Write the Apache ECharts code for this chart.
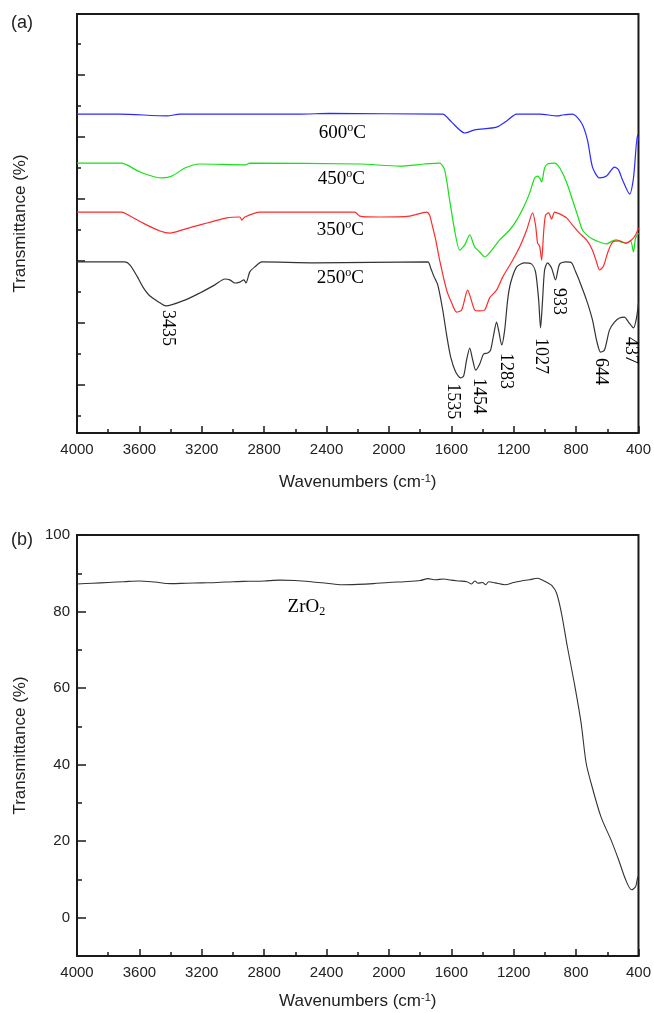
<!DOCTYPE html>
<html>
<head>
<meta charset="utf-8">
<script src="https://cdn.jsdelivr.net/npm/echarts@6/dist/echarts.min.js"></script>
<style>
html,body{margin:0;padding:0;background:#fff;}
#chart{width:654px;height:1013px;}
</style>
</head>
<body>
<div id="chart"></div>
<script>
// ---------- Panel (a): FTIR spectra (arbitrary transmittance units, offset) ----------
const wn600 = [4000,3725,3423,3340,2571,2379,1675,1655,1598,1514,1450,1310,1245,1181,1034,919,887,823,765,727,695,650,605,554,528,502,457,432,406,400];
const tr600 = [9.74,9.74,9.68,9.74,9.74,9.76,9.74,9.74,9.48,9.13,9.23,9.32,9.52,9.74,9.74,9.68,9.71,9.74,9.45,8.90,8.03,7.68,7.74,8.03,7.94,7.61,7.16,7.68,9.06,8.90];

const wn450 = [4000,3712,3680,3596,3500,3449,3391,3308,3212,2920,2892,2187,1931,1771,1675,1643,1611,1579,1546,1514,1482,1450,1418,1386,1341,1290,1226,1181,1130,1098,1066,1047,1034,1021,1002,983,938,919,887,855,823,791,759,714,669,605,566,541,509,477,451,432,419,400];
const tr450 = [8.16,8.16,8.10,7.87,7.71,7.68,7.74,8.00,8.13,8.10,8.16,8.13,8.06,8.13,8.16,7.94,6.97,6.00,5.35,5.52,5.84,5.45,5.29,5.13,5.35,5.68,6.00,6.32,6.81,7.19,7.68,7.74,7.68,7.55,8.00,8.13,8.16,8.10,7.84,7.45,6.97,6.48,6.00,5.77,5.65,5.55,5.65,5.68,5.61,5.58,5.65,5.29,5.74,5.90];

const wn350 = [4000,3712,3660,3564,3468,3404,3308,3039,2956,2943,2924,2828,2219,2187,2059,1867,1758,1739,1726,1700,1675,1630,1598,1566,1534,1495,1476,1450,1418,1386,1354,1310,1271,1213,1162,1117,1079,1060,1047,1034,1021,1008,996,976,957,938,906,861,823,778,733,695,669,650,624,598,566,522,483,445,419,400];
const tr350 = [6.58,6.58,6.45,6.19,5.97,5.90,6.03,6.39,6.42,6.32,6.42,6.58,6.58,6.45,6.42,6.45,6.58,6.48,6.23,5.68,5.03,4.06,3.65,3.35,3.42,4.06,3.81,3.42,3.39,3.42,3.81,4.06,4.48,4.97,5.45,6.00,6.55,6.16,5.58,5.48,5.03,5.94,6.48,6.55,6.35,6.58,6.52,6.39,6.16,5.90,5.68,5.35,4.97,4.71,4.84,5.26,5.61,5.65,5.58,5.68,5.84,6.06];

const wn250 = [4000,3693,3660,3616,3577,3532,3468,3430,3308,3212,3116,3052,3020,2988,2956,2930,2917,2892,2860,2815,2475,1751,1732,1713,1687,1655,1630,1604,1572,1540,1521,1502,1482,1463,1444,1418,1393,1367,1348,1329,1310,1297,1277,1258,1239,1220,1181,1130,1085,1060,1040,1028,1015,1002,983,957,932,906,867,829,803,778,733,695,669,643,618,586,554,522,490,464,432,413,400];
const tr250 = [4.97,4.97,4.87,4.52,4.16,3.87,3.65,3.55,3.74,3.97,4.23,4.42,4.39,4.29,4.32,4.39,4.29,4.65,4.81,4.97,4.94,4.97,4.77,4.52,4.23,3.42,2.61,1.90,1.42,1.23,1.29,1.81,2.19,1.81,1.48,1.68,2.00,2.03,2.13,2.61,3.03,2.77,2.29,2.77,3.74,4.29,4.81,4.94,4.90,4.65,3.74,2.84,3.74,4.71,4.94,4.77,4.39,4.90,4.97,4.94,4.65,4.35,3.74,3.10,2.45,2.06,2.13,2.77,3.03,3.16,3.19,3.03,2.84,3.16,3.65];

// temperature labels
const tempNames = ['600', '450', '350', '250'];
const tempWn = [2450, 2456, 2463, 2463];
const tempTr = [9.13, 7.65, 6.00, 4.45];

// peak annotations (label top position)
const peakText = ['3435', '1535', '1454', '1283', '1027', '933', '644', '437'];
const peakWn = [3417, 1588, 1425, 1252, 1028, 912, 643, 451];
const peakTr = [3.42, 1.06, 1.23, 2.03, 2.52, 4.13, 1.87, 2.55];

// ---------- Panel (b): ZrO2 ----------
const wnZr = [4000,3900,3800,3700,3600,3500,3400,3300,3200,3100,3000,2900,2800,2700,2600,2500,2400,2300,2200,2100,2000,1900,1800,1750,1700,1650,1600,1550,1500,1470,1450,1430,1400,1380,1360,1319,1256,1200,1150,1100,1047,1020,983,955,926,894,856,812,768,736,704,641,577,527,482,444,419,406,400];
const trZr = [87.2,87.4,87.6,87.8,88.0,87.7,87.3,87.4,87.5,87.6,87.8,87.9,88.0,88.2,88.1,87.8,87.4,87.0,87.1,87.3,87.6,87.8,88.1,88.6,88.3,88.5,88.2,88.0,87.8,87.2,88.0,87.4,87.6,87.0,87.8,87.5,87.0,87.6,88.0,88.3,88.7,88.3,87.5,86.8,84.9,79.6,70.8,61.4,50.9,40.5,35.2,26.4,20.4,15.1,9.9,7.3,8.1,10.4,11.0];

const aTickMajor = [1,3,5,7,9,11];
const aTickMinor = [0,2,4,6,8,10,12];
const bTickMajor = [0,20,40,60,80,100];
const bTickMinor = [10,30,50,70,90];

const zip = (a, b) => a.map((v, i) => [v, b[i]]);
const SANS = '"Liberation Sans", Arial, sans-serif';
const SERIF = '"Liberation Serif", "Times New Roman", serif';
const AX = '#1a1a1a';
const NOB = { textBorderWidth: 0, textBorderColor: 'transparent', textShadowBlur: 0 };

function xAx(gi) {
  return {
    type: 'value', gridIndex: gi, min: 400, max: 4000, interval: 400, inverse: true,
    axisLine: { show: true, onZero: false, lineStyle: { color: AX, width: 2 } },
    axisTick: { show: true, inside: true, length: 7, lineStyle: { color: AX, width: 1.5 } },
    minorTick: { show: true, splitNumber: 2, length: 4, lineStyle: { color: AX, width: 1.5 } },
    splitLine: { show: false },
    axisLabel: { color: '#222', fontFamily: SANS, fontSize: 15, margin: 9, formatter: v => String(v) },
    name: '{n|Wavenumbers (cm}{s|-1}{n|)}',
    nameLocation: 'middle', nameGap: gi === 0 ? 40 : 36,
    nameTextStyle: {
      rich: {
        n: { fontFamily: SANS, fontSize: 17, color: '#222' },
        s: { fontFamily: SANS, fontSize: 11, color: '#222', padding: [0, 0, 8, 0] }
      }
    }
  };
}

const yName = {
  name: 'Transmittance (%)', nameLocation: 'middle', nameGap: 48,
  nameTextStyle: { fontFamily: SANS, fontSize: 17, color: '#222' }
};

const labelItem = { color: '#000', opacity: 1 };

const option = {
  animation: false,
  backgroundColor: '#fff',
  grid: [
    { left: 77, right: 15, top: 14, height: 419, show: true, borderColor: AX, borderWidth: 2, backgroundColor: 'transparent' },
    { left: 77, right: 9, top: 535, height: 421, show: true, borderColor: AX, borderWidth: 2, backgroundColor: 'transparent' }
  ],
  graphic: [
    { type: 'text', left: 11, top: 14, style: { text: '(a)', font: '18px ' + SANS, fill: '#222' } },
    { type: 'text', left: 11, top: 531, style: { text: '(b)', font: '18px ' + SANS, fill: '#222' } }
  ],
  xAxis: [xAx(0), xAx(1)],
  yAxis: [
    Object.assign({
      type: 'value', gridIndex: 0, position: 'left', min: -0.548, max: 12.968,
      axisLine: { show: true, onZero: false, lineStyle: { color: AX, width: 2 } },
      axisTick: { show: true, inside: true, length: 8, customValues: aTickMajor, lineStyle: { color: AX, width: 1.5 } },
      axisLabel: { show: false }, splitLine: { show: false }
    }, yName),
    {
      type: 'value', gridIndex: 0, position: 'left', offset: 0, min: -0.548, max: 12.968,
      axisLine: { show: false, onZero: false },
      axisTick: { show: true, inside: true, length: 4, customValues: aTickMinor, lineStyle: { color: AX, width: 1.5 } },
      axisLabel: { show: false }, splitLine: { show: false }
    },
    Object.assign({
      type: 'value', gridIndex: 1, position: 'left', min: -10, max: 100,
      axisLine: { show: true, onZero: false, lineStyle: { color: AX, width: 2 } },
      axisTick: { show: true, inside: true, length: 9, customValues: bTickMajor, lineStyle: { color: AX, width: 1.5 } },
      axisLabel: { show: true, customValues: bTickMajor, color: '#222', fontFamily: SANS, fontSize: 15, margin: 7 },
      splitLine: { show: false }
    }, yName),
    {
      type: 'value', gridIndex: 1, position: 'left', offset: 0, min: -10, max: 100,
      axisLine: { show: false, onZero: false },
      axisTick: { show: true, inside: true, length: 5, customValues: bTickMinor, lineStyle: { color: AX, width: 1.5 } },
      axisLabel: { show: false }, splitLine: { show: false }
    }
  ],
  series: [
    { type: 'line', xAxisIndex: 0, yAxisIndex: 0, data: zip(wn600, tr600), showSymbol: false, smooth: 0.25, lineStyle: { color: '#2a2aff', width: 1.2 } },
    { type: 'line', xAxisIndex: 0, yAxisIndex: 0, data: zip(wn450, tr450), showSymbol: false, smooth: 0.25, lineStyle: { color: '#16e016', width: 1.2 } },
    { type: 'line', xAxisIndex: 0, yAxisIndex: 0, data: zip(wn350, tr350), showSymbol: false, smooth: 0.25, lineStyle: { color: '#ff2a2a', width: 1.2 } },
    { type: 'line', xAxisIndex: 0, yAxisIndex: 0, data: zip(wn250, tr250), showSymbol: false, smooth: 0.25, lineStyle: { color: '#333', width: 1.2 } },
    {
      type: 'scatter', xAxisIndex: 0, yAxisIndex: 0, symbolSize: 0, silent: true,
      itemStyle: labelItem,
      data: tempNames.map((t, i) => [tempWn[i], tempTr[i], t]),
      label: Object.assign({
        show: true, position: 'inside', align: 'left', verticalAlign: 'middle', color: '#000',
        formatter: p => '{a|' + p.data[2] + '}{s|o}{a|C}',
        rich: {
          a: Object.assign({ fontFamily: SERIF, fontSize: 19, color: '#000' }, NOB),
          s: Object.assign({ fontFamily: SERIF, fontSize: 12, color: '#000', padding: [0, 0, 10, 0] }, NOB)
        }
      }, NOB)
    },
    {
      type: 'scatter', xAxisIndex: 0, yAxisIndex: 0, symbolSize: 0, silent: true,
      itemStyle: labelItem,
      data: peakText.map((t, i) => [peakWn[i], peakTr[i], t]),
      label: Object.assign({
        show: true, position: 'inside', align: 'left', verticalAlign: 'middle', rotate: -90,
        formatter: p => p.data[2],
        fontFamily: SERIF, fontSize: 18, color: '#000'
      }, NOB)
    },
    { type: 'line', xAxisIndex: 1, yAxisIndex: 2, data: zip(wnZr, trZr), showSymbol: false, smooth: 0.3, lineStyle: { color: '#333', width: 1.1 } },
    {
      type: 'scatter', xAxisIndex: 1, yAxisIndex: 2, symbolSize: 0, silent: true,
      itemStyle: labelItem,
      data: [[2650, 81.2, 'ZrO']],
      label: Object.assign({
        show: true, position: 'inside', align: 'left', verticalAlign: 'middle', color: '#000',
        formatter: '{a|ZrO}{s|2}',
        rich: {
          a: Object.assign({ fontFamily: SERIF, fontSize: 19, color: '#000' }, NOB),
          s: Object.assign({ fontFamily: SERIF, fontSize: 12, color: '#000', padding: [10, 0, 0, 0] }, NOB)
        }
      }, NOB)
    }
  ]
};

const chart = echarts.init(document.getElementById('chart'), null, { renderer: 'canvas' });
chart.setOption(option);
</script>
</body>
</html>
